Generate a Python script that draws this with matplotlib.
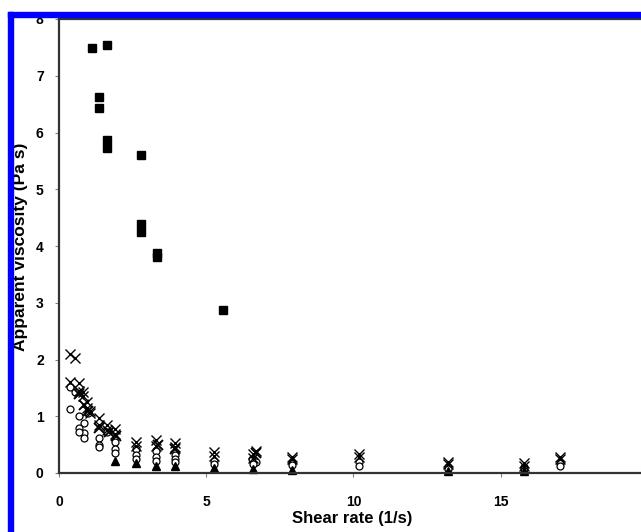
import matplotlib
matplotlib.use("Agg")
import matplotlib.pyplot as plt
from matplotlib.patches import Rectangle

plt.rcParams['font.family'] = ['Liberation Sans', 'DejaVu Sans']
plt.rcParams['font.weight'] = 'bold'

# filled squares (high viscosity sample)
sq_x = [1.12, 1.63, 1.36, 1.36, 1.63, 1.63, 2.78, 2.78, 2.78, 3.33, 3.33, 5.57]
sq_y = [7.49, 7.54, 6.63, 6.43, 5.87, 5.73, 5.61, 4.39, 4.25, 3.88, 3.80, 2.88]

# crosses
xa_x = [0.37, 0.55, 0.68, 0.8, 0.95, 1.05, 1.35, 1.63, 1.9, 2.6, 3.3, 3.95, 5.25, 6.6, 6.7, 7.9, 10.2, 13.2, 15.8, 17.0]
xa_y = [2.1, 2.02, 1.58, 1.42, 1.25, 1.1, 0.97, 0.85, 0.78, 0.55, 0.58, 0.52, 0.37, 0.33, 0.38, 0.29, 0.33, 0.2, 0.18, 0.28]
xb_x = [0.37, 0.68, 0.8, 0.95, 1.05, 1.35, 1.63, 1.9, 2.6, 3.3, 3.95, 5.25, 6.6, 7.9, 10.2, 13.2, 15.8, 17.0]
xb_y = [1.6, 1.45, 1.35, 1.15, 1.05, 0.85, 0.75, 0.68, 0.48, 0.47, 0.45, 0.3, 0.27, 0.24, 0.28, 0.15, 0.13, 0.24]
xc_x = [0.68, 0.84, 1.0, 1.35, 1.7, 1.95, 3.35, 3.95, 6.7]
xc_y = [1.4, 1.2, 1.1, 0.8, 0.72, 0.65, 0.5, 0.43, 0.35]

# open circles
c1_x = [0.37, 0.55, 0.68, 0.84, 1.0, 1.35, 1.63, 1.9, 2.6, 3.3, 3.95, 5.25, 6.55, 7.9, 10.2, 13.2, 15.8, 17.0]
c1_y = [1.52, 1.42, 1.0, 0.88, 1.05, 0.62, 0.72, 0.55, 0.42, 0.38, 0.32, 0.22, 0.25, 0.18, 0.2, 0.1, 0.1, 0.18]
c2_x = [0.37, 0.68, 0.84, 1.35, 1.9, 2.6, 3.3, 3.95, 5.25, 6.7, 7.9, 10.2, 13.2, 15.8, 17.0]
c2_y = [1.13, 0.8, 0.7, 0.5, 0.42, 0.32, 0.28, 0.25, 0.15, 0.2, 0.14, 0.13, 0.07, 0.07, 0.13]
c3_x = [0.68, 0.84, 1.35, 1.9, 2.6, 3.3, 3.95, 6.6]
c3_y = [0.73, 0.62, 0.45, 0.35, 0.25, 0.22, 0.2, 0.16]

# filled triangles
tr_x = [1.9, 2.6, 3.3, 3.95, 5.25, 6.6, 7.9, 13.2, 15.8]
tr_y = [0.22, 0.17, 0.13, 0.12, 0.08, 0.07, 0.06, 0.04, 0.03]

xticks = [0, 5, 10, 15, 20]
yticks = [0, 1, 2, 3, 4, 5, 6, 7, 8]

fig = plt.figure(figsize=(6.41, 5.32), dpi=100)
ax = fig.add_axes([59/641, 59/532, 21*29.45/641, 454/532])

ax.plot(c1_x, c1_y, 'o', ms=5, mfc='white', mec='black', mew=0.9, ls='none')
ax.plot(c2_x, c2_y, 'o', ms=5, mfc='white', mec='black', mew=0.9, ls='none')
ax.plot(c3_x, c3_y, 'o', ms=5, mfc='white', mec='black', mew=0.9, ls='none')
ax.plot(xa_x, xa_y, 'x', ms=7, color='black', mew=1.0, ls='none')
ax.plot(xb_x, xb_y, 'x', ms=7, color='black', mew=1.0, ls='none')
ax.plot(xc_x, xc_y, 'x', ms=6.5, color='black', mew=1.4, ls='none')
ax.plot(tr_x, tr_y, '^', ms=6, color='black', ls='none', clip_on=False)
ax.plot(sq_x, sq_y, 's', ms=5.2, color='black', ls='none')

ax.set_xlim(0, 21)
ax.set_ylim(0, 8)
ax.set_xticks(xticks)
ax.set_yticks(yticks)
ax.tick_params(axis='both', direction='out', length=3, width=0.8, color='gray',
               labelsize=10)
ax.tick_params(axis='x', pad=13)
ax.tick_params(axis='y', pad=8)
for lab in ax.get_xticklabels() + ax.get_yticklabels():
    lab.set_fontweight('bold')
for s in ax.spines.values():
    s.set_linewidth(1.6)
    s.set_color('#333333')

fig.text(352/641, 1 - 519/532, 'Shear rate (1/s)', ha='center', va='center',
         fontsize=12, fontweight='bold')
fig.text(21/641, 1 - 247/532, 'Apparent viscosity (Pa s)', ha='center', va='center',
         rotation=90, fontsize=12.5, fontweight='bold')

# blue frame along top and left
fig.patches.append(Rectangle((8/641, 0), 5/641, 1 - 12/532, transform=fig.transFigure,
                             color='#0000ff', zorder=10))
fig.patches.append(Rectangle((8/641, 1 - 17/532), 1, 5/532, transform=fig.transFigure,
                             color='#0000ff', zorder=10))

fig.savefig('out.png', dpi=100)
